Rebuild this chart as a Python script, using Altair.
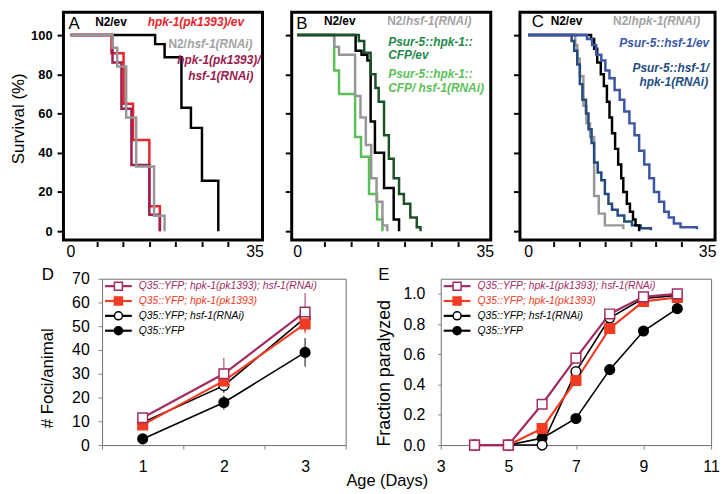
import altair as alt
import pandas as pd

FONT = "Liberation Sans"

# ---------------- Panel A : survival (%) vs days ----------------
A_N2_EV_DAY = [0, 16.1, 17.9, 21.1, 22.9, 25.0, 28.1]
A_N2_EV_SURV = [100, 95.4, 88.7, 63.0, 52.7, 25.7, 0]
A_HPK1_EV_DAY = [0, 7.8, 10.1, 11.9, 15.0, 17.0]
A_HPK1_EV_SURV = [100, 90.7, 65.0, 46.5, 12.7, 0]
A_HPK1_HSF1_DAY = [0, 8.0, 9.7, 11.6, 15.0, 17.0]
A_HPK1_HSF1_SURV = [100, 86.0, 62.5, 33.8, 8.4, 0]
A_N2_HSF1_DAY = [0, 8.0, 8.9, 10.6, 12.5, 15.9, 17.9]
A_N2_HSF1_SURV = [100, 93.5, 84.0, 58.0, 33.0, 7.9, 0]

# ---------------- Panel B ----------------
B_N2_EV_DAY = [0, 10.9, 12.0, 13.1, 13.7, 14.5, 16.2, 18.0, 19.0]
B_N2_EV_SURV = [100, 92, 90, 87, 56, 40, 22, 6, 0]
B_N2_HSF1_DAY = [0, 6.9, 7.8, 10.8, 11.8, 12.8, 13.8, 14.8, 15.9, 16.8]
B_N2_HSF1_SURV = [100, 94, 90, 69, 58, 44, 27, 15, 3, 0]
B_HPK1_EV_DAY = [0, 11.5, 12.5, 13.7, 14.6, 15.2, 16.2, 17.1, 18.0, 19.0, 19.9, 21.1, 22.3, 23.0]
B_HPK1_EV_SURV = [100, 97, 91, 80, 73, 66, 49, 37, 27, 19, 14, 7, 2, 0]
B_HPK1_HSF1_DAY = [0, 6.9, 7.8, 10.8, 11.9, 13.4, 14.9, 15.9]
B_HPK1_HSF1_SURV = [100, 82, 70, 48, 38, 19, 6, 0]

# ---------------- Panel C ----------------
C_N2_EV_DAY = [0, 12.3, 12.9, 13.5, 14.2, 14.8, 15.4, 15.9, 16.4, 17.0, 17.6, 18.2, 18.6, 19.3, 19.9, 20.5, 21.0, 21.7]
C_N2_EV_SURV = [100, 98, 93, 86, 80, 74, 66, 58, 50, 42, 34, 27, 20, 14, 10, 6, 3, 0]
C_N2_HPK1_DAY = [0, 9.2, 9.6, 10.1, 10.8, 11.4, 12.1, 12.9, 13.8, 15.0, 18.6]
C_N2_HPK1_SURV = [100, 95, 88, 79, 64, 55, 48, 18, 9, 3, 1]
C_HSF1_EV_DAY = [0, 11.5, 12.5, 13.3, 14.3, 15.1, 15.9, 16.9, 17.9, 18.8, 19.8, 20.8, 21.7, 22.7, 23.7, 24.6,
                 25.6, 26.6, 27.5, 28.5, 29.8, 33.0]
C_HSF1_EV_SURV = [100, 98, 95, 90, 87, 82, 78, 72, 67, 61, 55, 49, 41, 34, 27, 20, 15, 10, 7, 4, 2, 1]
C_HSF1_HPK1_DAY = [0, 8.5, 9.0, 9.6, 10.1, 10.6, 11.3, 11.8, 12.4, 12.9, 13.6, 14.3, 15.0, 15.7, 16.4, 17.5,
                   18.8, 20.3, 22.0, 24.0]
C_HSF1_HPK1_SURV = [100, 97, 92, 85, 75, 67, 60, 52, 45, 35, 30, 26, 19, 14, 11, 8, 5, 3, 1.5, 0.5]

SURV_TICKS = [0, 20, 40, 60, 80, 100]
DAY_TICKS = [0, 5, 10, 15, 20, 25, 30, 35]

# ---------------- Panels D / E ----------------
DE_NAMES = ["Q35::YFP; hpk-1(pk1393); hsf-1(RNAi)", "Q35::YFP; hpk-1(pk1393)",
            "Q35::YFP; hsf-1(RNAi)", "Q35::YFP"]
DE_STROKE = ["#a12c64", "#f03c22", "#000000", "#000000"]
DE_FILL = ["#ffffff", "#f03c22", "#ffffff", "#000000"]
DE_SHAPE = ["square", "square", "circle", "circle"]
DE_TEXT = ["#a12c64", "#ee3b24", "#000000", "#000000"]

D_DAYS = [1, 2, 3]
D_VALUES = [[11.5, 30.0, 56.0], [8.5, 27.0, 51.0], [9.5, 25.0, 53.5], [2.6, 17.9, 39.0]]
D_ERRORS = [[2.0, 6.7, 8.0], [1.5, 3.0, 4.0], [1.5, 3.0, 4.0], [1.0, 3.0, 6.0]]
D_TICKS = [0, 10, 20, 30, 40, 50, 60, 70]

E_DAYS = [4, 5, 6, 7, 8, 9, 10]
E_VALUES = [[0, 0, 0.27, 0.575, 0.867, 0.98, 1.0],
            [0, 0, 0.11, 0.427, 0.771, 0.95, 0.976],
            [0, 0, 0.0, 0.486, 0.84, 0.97, 0.99],
            [0, 0, 0.046, 0.176, 0.499, 0.754, 0.902]]
E_XTICKS = [3, 5, 7, 9, 11]
E_YTICKS = [0.0, 0.2, 0.4, 0.6, 0.8, 1.0]

TOP_H = 230


def text_layer(text, x, y, color, size=12, weight="bold", style="italic", align="left"):
    df = pd.DataFrame({"t": [text]})
    return alt.Chart(df).mark_text(align=align, baseline="middle", font=FONT, fontSize=size,
                                   fontWeight=weight, fontStyle=style, color=color).encode(
        x=alt.value(x), y=alt.value(y), text="t:N")


def pin_layer(x, y, x2=0):
    df = pd.DataFrame({"p": [0]})
    return alt.Chart(df).mark_rule(opacity=0, strokeOpacity=0).encode(
        x=alt.value(x), x2=alt.value(x2), y=alt.value(y))


def spacer(w, h):
    df = pd.DataFrame({"p": [0]})
    return alt.Chart(df).mark_point(opacity=0).encode(x=alt.value(0), y=alt.value(0)).properties(
        width=w, height=h, view=alt.ViewBackground(stroke="transparent"))


def top_panel(series, xdom, width, texts, letter, show_labels, pin=None):
    xs = alt.Scale(domain=xdom, nice=False, zero=False)
    ys = alt.Scale(domain=[-4.5, 111.6], nice=False, zero=False)
    xaxis = alt.Axis(values=DAY_TICKS,
                     labelExpr="datum.value == 0 || datum.value == 35 ? datum.label : ''",
                     domain=False, grid=False, tickSize=5, tickWidth=2, tickColor="black",
                     tickOpacity={"condition": {"test": "datum.value == 0 || datum.value == 35", "value": 0},
                                  "value": 1},
                     offset=1.5, labelFontSize=16, labelPadding=-3, labelFlush=False,
                     labelColor="black", labelFont=FONT, title=None)
    if show_labels:
        yaxis = alt.Axis(values=SURV_TICKS, domain=False, grid=False, tickSize=5, tickWidth=2,
                         tickColor="black", offset=1.5, labelFontSize=13, labelFontWeight="bold",
                         labelPadding=5, labelColor="black", labelFont=FONT,
                         title="Survival (%)", titleFontSize=17, titleFontWeight="normal", titleFont=FONT,
                         titleColor="black", titleX=-35, titleY=107, titleBaseline="bottom", titleAngle=270)
    else:
        yaxis = alt.Axis(values=SURV_TICKS, domain=False, grid=False, tickSize=5, tickWidth=2,
                         tickColor="black", offset=1.5, labels=False, title=None)
    layers = []
    for days, surv, color in series:
        df = pd.DataFrame({"day": days, "surv": surv})
        layers.append(alt.Chart(df).mark_line(interpolate="step-after", color=color, strokeWidth=2.5,
                                              strokeJoin="miter").encode(
            x=alt.X("day:Q", scale=xs, axis=xaxis),
            y=alt.Y("surv:Q", scale=ys, axis=yaxis)))
    for t in texts:
        layers.append(text_layer(*t))
    layers.append(text_layer(letter[0], letter[1], letter[2], "black", size=17, weight="normal", style="normal"))
    if pin is not None:
        layers.append(pin_layer(pin[0], pin[1]))
    return alt.layer(*layers).properties(width=width, height=TOP_H,
                                         view=alt.ViewBackground(stroke="black", strokeWidth=3))


# ---- colours ----
RED, PURPLE, GRAY = "#e8252b", "#a11d4f", "#969696"
GREEN_D, GREEN_T, GREEN_L = "#1c5229", "#23894a", "#5bbf58"
BLUE1, BLUE2 = "#3c56a5", "#254b7d"

panelA = top_panel(
    [(A_N2_EV_DAY, A_N2_EV_SURV, "black"), (A_HPK1_EV_DAY, A_HPK1_EV_SURV, RED),
     (A_HPK1_HSF1_DAY, A_HPK1_HSF1_SURV, PURPLE), (A_N2_HSF1_DAY, A_N2_HSF1_SURV, GRAY)],
    [-1.32, 36.5], 201,
    [("N2/ev", 32, 9.5, "black", 12, "bold", "normal"),
     ("hpk-1(pk1393)/ev", 85, 9.5, RED),
     ("N2/", 106, 32, "#a3a3a3", 12, "bold", "normal"),
     ("hsf-1(RNAi)", 125, 32, "#a3a3a3"),
     ("hpk-1(pk1393)/", 157, 48, "#9b1b4f", 12, "bold", "italic", "center"),
     ("hsf-1(RNAi)", 159, 64.5, "#9b1b4f", 12, "bold", "italic", "center")],
    ("A", 5, 12), True, pin=(-52, TOP_H + 21))

panelB = top_panel(
    [(B_HPK1_HSF1_DAY, B_HPK1_HSF1_SURV, GREEN_L), (B_N2_HSF1_DAY, B_N2_HSF1_SURV, GRAY),
     (B_N2_EV_DAY, B_N2_EV_SURV, "black"), (B_HPK1_EV_DAY, B_HPK1_EV_SURV, GREEN_D)],
    [-1.02, 36.1], 201,
    [("N2/ev", 32.5, 9, "black", 12, "bold", "normal"),
     ("N2/", 96.5, 9, "#a3a3a3", 12, "bold", "normal"),
     ("hsf-1(RNAi)", 115.5, 9, "#a3a3a3"),
     ("Psur-5::hpk-1::", 97.5, 30, GREEN_T),
     ("CFP/ev", 97.5, 43, GREEN_T),
     ("Psur-5::hpk-1::", 97.5, 62, GREEN_L),
     ("CFP/ hsf-1(RNAi)", 97.5, 76.5, GREEN_L)],
    ("B", 4.5, 12), False)

panelC = top_panel(
    [(C_N2_HPK1_DAY, C_N2_HPK1_SURV, GRAY), (C_HSF1_HPK1_DAY, C_HSF1_HPK1_SURV, BLUE2),
     (C_N2_EV_DAY, C_N2_EV_SURV, "black"), (C_HSF1_EV_DAY, C_HSF1_EV_SURV, BLUE1)],
    [-1.61, 36.55], 197,
    [("N2/ev", 31, 9, "black", 12, "bold", "normal"),
     ("N2/", 94, 9, "#a3a3a3", 12, "bold", "normal"),
     ("hpk-1(RNAi)", 112.7, 9, "#a3a3a3"),
     ("Psur-5::hsf-1/ev", 191, 31.5, "#3a56a8", 12, "bold", "italic", "right"),
     ("Psur-5::hsf-1/", 191, 56, "#1f4e80", 12, "bold", "italic", "right"),
     ("hpk-1(RNAi)", 190, 70, "#1f4e80", 12, "bold", "italic", "right")],
    ("C", 12, 10), False)

BOT_H = 168
DRAW_ORDER = [3, 2, 1, 0]


def bottom_panel(days, values, errors, xs, xaxis, ys, yaxis, width, letter, extra):
    layers = []
    widths = [2.2, 2.2, 1.6, 1.6]
    for i in DRAW_ORDER:
        df = pd.DataFrame({"day": days, "v": values[i]})
        layers.append(alt.Chart(df).mark_line(color=DE_STROKE[i], strokeWidth=widths[i]).encode(
            x=alt.X("day:Q", scale=xs, axis=xaxis), y=alt.Y("v:Q", scale=ys, axis=yaxis)))
    if errors is not None:
        for i in DRAW_ORDER:
            df = pd.DataFrame({"day": days,
                               "lo": [v - e for v, e in zip(values[i], errors[i])],
                               "hi": [v + e for v, e in zip(values[i], errors[i])]})
            layers.append(alt.Chart(df).mark_rule(color=DE_STROKE[i], strokeWidth=1).encode(
                x=alt.X("day:Q", scale=xs, axis=xaxis), y=alt.Y("lo:Q", scale=ys, axis=yaxis), y2="hi:Q"))
    for i in DRAW_ORDER:
        df = pd.DataFrame({"day": days, "v": values[i]})
        layers.append(alt.Chart(df).mark_point(shape=DE_SHAPE[i], filled=True, fill=DE_FILL[i],
                                               stroke=DE_STROKE[i], strokeWidth=1.5, size=95,
                                               opacity=1).encode(
            x=alt.X("day:Q", scale=xs, axis=xaxis), y=alt.Y("v:Q", scale=ys, axis=yaxis)))
    # legend
    for i, name in enumerate(DE_NAMES):
        ly = 7.5 + 15 * i
        df = pd.DataFrame({"t": [name]})
        layers.append(alt.Chart(df).mark_rule(color=DE_STROKE[i], strokeWidth=2.2).encode(
            x=alt.value(3), x2=alt.value(30), y=alt.value(ly)))
        layers.append(alt.Chart(df).mark_point(shape=DE_SHAPE[i], filled=True, fill=DE_FILL[i],
                                               stroke=DE_STROKE[i], strokeWidth=1.5, size=65,
                                               opacity=1).encode(
            x=alt.value(16.5), y=alt.value(ly)))
        layers.append(alt.Chart(df).mark_text(align="left", baseline="middle", font=FONT, fontSize=10.5,
                                              fontStyle="italic", color=DE_TEXT[i]).encode(
            x=alt.value(37), y=alt.value(ly), text="t:N"))
    layers.append(text_layer(letter[0], letter[1], letter[2], "black", size=17, weight="normal", style="normal"))
    layers.extend(extra)
    return alt.layer(*layers).properties(width=width, height=BOT_H,
                                         view=alt.ViewBackground(stroke="#6e6e6e", strokeWidth=1))


d_xs = alt.Scale(domain=[0.5, 3.5], nice=False, zero=False)
d_xaxis = alt.Axis(values=[0.5, 1.5, 2.5, 3.5],
                   labelExpr="datum.value < 1 ? '' : format(datum.value - 0.5, 'd')",
                   labelOffset=-41, labelFlush=False, domain=False, grid=False, tickSize=4,
                   tickColor="#808080", labelFontSize=16, labelPadding=10, labelColor="black",
                   labelFont=FONT, title=None)
d_ys = alt.Scale(domain=[0, 70], nice=False, zero=False)
d_yaxis = alt.Axis(values=D_TICKS, domain=False, grid=False, tickSize=4, tickColor="#808080",
                   labelFontSize=16, labelPadding=9, labelColor="black", labelFont=FONT,
                   title="# Foci/animal", titleFontSize=17, titleFontWeight="normal", titleFont=FONT,
                   titleColor="black", titleX=-46, titleY=100, titleBaseline="bottom", titleAngle=270)

e_xs = alt.Scale(domain=[3, 11], nice=False, zero=False)
e_xaxis = alt.Axis(values=E_XTICKS, labelFlush=False, domain=False, grid=False, tickSize=4,
                   tickColor="#808080", labelFontSize=16, labelPadding=10, labelColor="black",
                   labelFont=FONT, title=None)
e_ys = alt.Scale(domain=[0, 1.1], nice=False, zero=False)
e_yaxis = alt.Axis(values=E_YTICKS, format=".1f", domain=False, grid=False, tickSize=3,
                   tickColor="#808080", labelFontSize=16, labelPadding=13, labelColor="black",
                   labelFont=FONT, title="Fraction paralyzed", titleFontSize=18, titleFontWeight="normal",
                   titleFont=FONT, titleColor="black", titleX=-48, titleY=95, titleBaseline="bottom",
                   titleAngle=270)

panelD = bottom_panel(D_DAYS, D_VALUES, D_ERRORS, d_xs, d_xaxis, d_ys, d_yaxis, 246,
                      ("D", -61, -4), [pin_layer(-91, -15)])
panelE = bottom_panel(E_DAYS, E_VALUES, None, e_xs, e_xaxis, e_ys, e_yaxis, 273,
                      ("E", -63, -4),
                      [text_layer("Age (Days)", -54, 204, "black", 16.5, "normal", "normal", "center")])

row1 = alt.hconcat(panelA, panelB, panelC, spacing=29.5, bounds="flush")
row2 = alt.hconcat(spacer(39, BOT_H), panelD, spacer(96, BOT_H), panelE, spacing=0, bounds="flush")
chart = alt.vconcat(row1, row2, spacing=0).properties(padding=0).configure(font=FONT)

chart.save("out.html", embed_options={"renderer": "svg", "actions": False})
